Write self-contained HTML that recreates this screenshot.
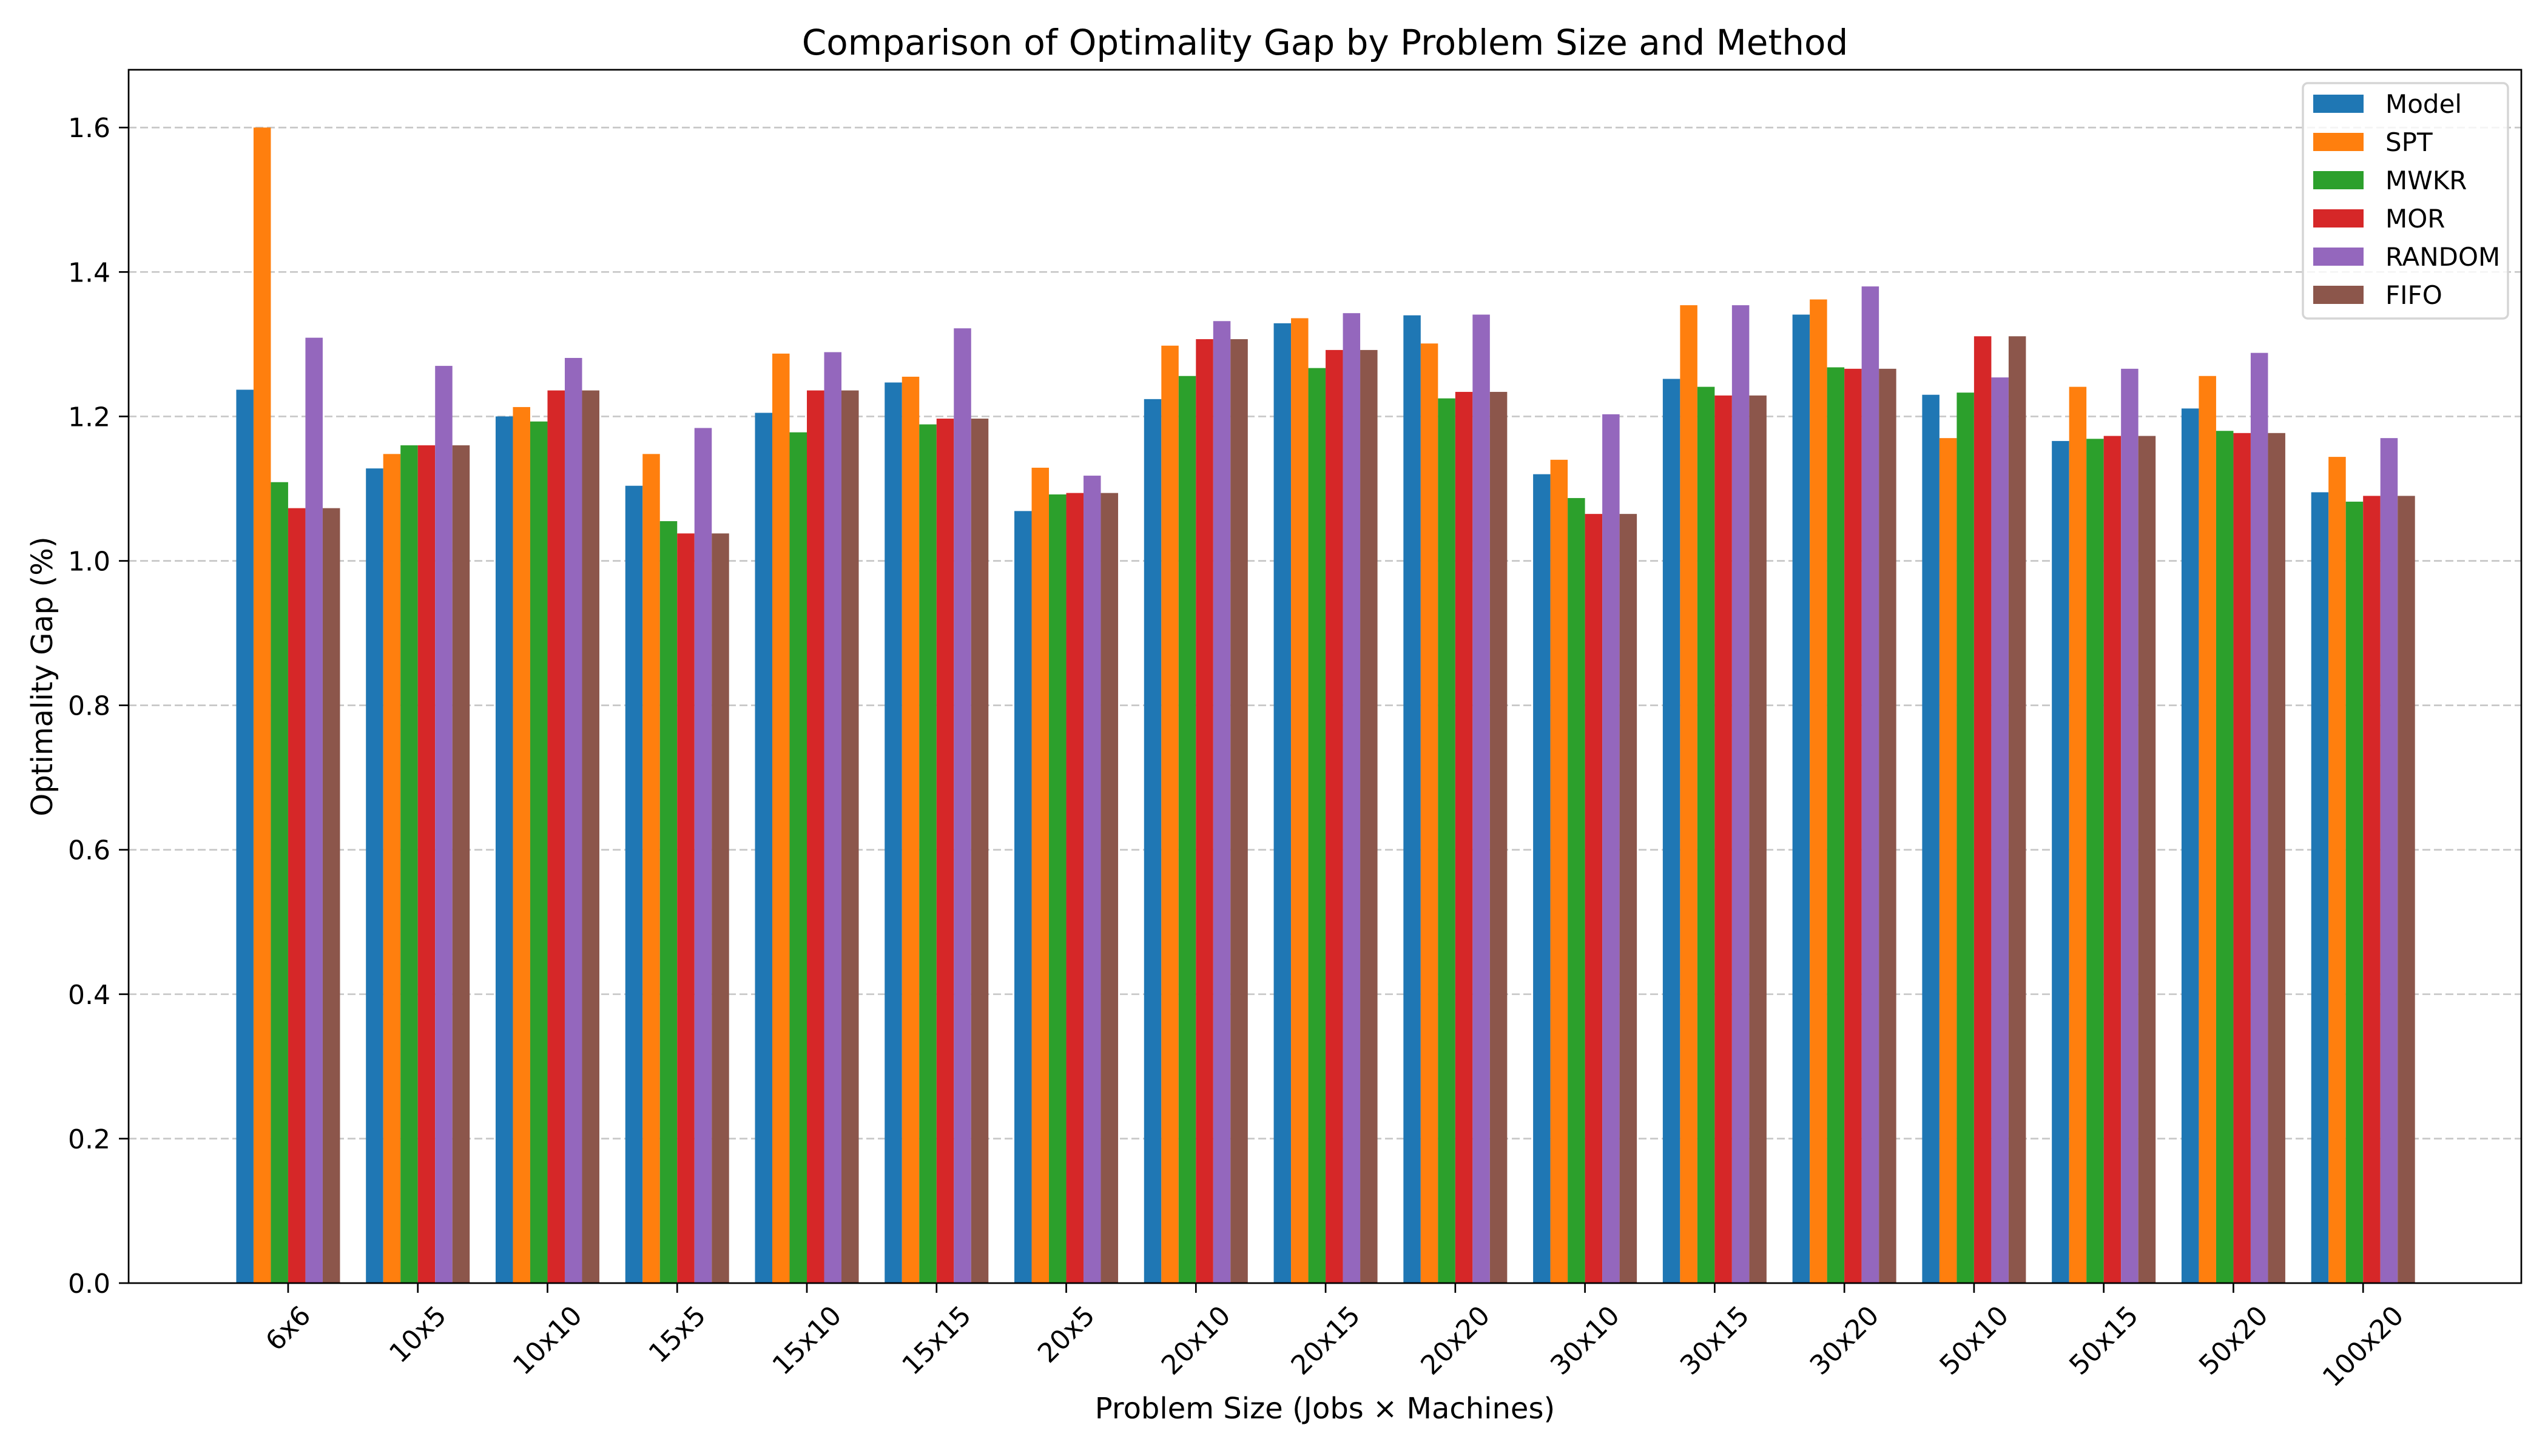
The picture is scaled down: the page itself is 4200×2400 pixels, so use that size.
<!DOCTYPE html>
<html><head><meta charset="utf-8"><style>
html,body{margin:0;padding:0;background:#fff;}
svg{display:block;font-family:"DejaVu Sans","Liberation Sans",sans-serif;}
</style></head><body>
<svg id="chart" width="4200" height="2400" viewBox="0 0 4200 2400">
<rect width="4200" height="2400" fill="#fff"/>
<g id="grid"></g><g id="bars"></g><g id="axes"></g><g id="legend"></g>
</svg>
<script>
const categories = ["6x6","10x5","10x10","15x5","15x10","15x15","20x5","20x10","20x15","20x20","30x10","30x15","30x20","50x10","50x15","50x20","100x20"];
const methods = ["Model","SPT","MWKR","MOR","RANDOM","FIFO"];
const colors = ["#1f77b4","#ff7f0e","#2ca02c","#d62728","#9467bd","#8c564b"];
const modelVals = [1.237,1.128,1.200,1.104,1.205,1.247,1.069,1.224,1.329,1.340,1.120,1.252,1.341,1.230,1.166,1.211,1.095];
const sptVals = [1.600,1.148,1.213,1.148,1.287,1.255,1.129,1.298,1.336,1.301,1.140,1.354,1.362,1.170,1.241,1.256,1.144];
const mwkrVals = [1.109,1.160,1.193,1.055,1.178,1.189,1.092,1.256,1.267,1.225,1.087,1.241,1.268,1.233,1.169,1.180,1.082];
const morVals = [1.073,1.160,1.236,1.038,1.236,1.197,1.094,1.307,1.292,1.234,1.065,1.229,1.266,1.311,1.173,1.177,1.090];
const randomVals = [1.309,1.270,1.281,1.184,1.289,1.322,1.118,1.332,1.343,1.341,1.203,1.354,1.380,1.254,1.266,1.288,1.170];
const fifoVals = [1.073,1.160,1.236,1.038,1.236,1.197,1.094,1.307,1.292,1.234,1.065,1.229,1.266,1.311,1.173,1.177,1.090];
const series = [modelVals,sptVals,mwkrVals,morVals,randomVals,fifoVals];
const yTicks = [0.0,0.2,0.4,0.6,0.8,1.0,1.2,1.4,1.6];

const NS="http://www.w3.org/2000/svg";
const L=212,R=4156,T=115,B=2115;
const yMax=1.68;
const xMin=-1.23,xMax=categories.length-1+1.22;
const sx=v=>L+(v-xMin)/(xMax-xMin)*(R-L);
const sy=v=>B-v/yMax*(B-T);
function mk(tag,attrs,parent,text){const e=document.createElementNS(NS,tag);for(const k in attrs)e.setAttribute(k,attrs[k]);if(text!==undefined)e.textContent=text;parent.appendChild(e);return e;}
const grid=document.getElementById('grid'),bars=document.getElementById('bars'),axes=document.getElementById('axes'),legend=document.getElementById('legend');

yTicks.forEach(t=>{
  if(t>0){const g=mk('line',{x1:L,x2:R,y1:sy(t),y2:sy(t),stroke:'#b0b0b0','stroke-width':2.7,'stroke-dasharray':'13,6',opacity:0.7},grid);
  
  }
  const tk=mk('line',{x1:L-16,x2:L,y1:sy(t),y2:sy(t),stroke:'#000','stroke-width':2.7},axes);
  
  
  const lb=mk('text',{x:L-30,y:sy(t)+16,'text-anchor':'end','font-size':44},axes,t.toFixed(1));
  
  
});

const w=0.8/6;
categories.forEach((c,ci)=>{
  series.forEach((s,si)=>{
    const x0=sx(ci+(si-3)*w), x1=sx(ci+(si-2)*w);
    const r=mk('rect',{x:x0,y:sy(s[ci]),width:x1-x0,height:sy(0)-sy(s[ci]),fill:colors[si]},bars);
    
    
  });
  const tx=sx(ci);
  const tk=mk('line',{x1:tx,x2:tx,y1:B,y2:B+16,stroke:'#000','stroke-width':2.7},axes);
  
  
  const lb=mk('text',{x:0,y:0,'text-anchor':'middle','font-size':44},axes,c);
  
  
  const tw=lb.getComputedTextLength()||c.length*27;
  const half=(tw*0.7071+44*0.7071)/2;
  const cy=B+30+half;
  lb.setAttribute('transform',`translate(${tx},${cy}) rotate(-45) translate(0,15)`);
});

const frame=mk('rect',{x:L,y:T,width:R-L,height:B-T,fill:'none',stroke:'#000','stroke-width':2.7},axes);


const title=mk('text',{x:(L+R)/2,y:90,'text-anchor':'middle','font-size':58},axes,'Comparison of Optimality Gap by Problem Size and Method');


const xt=mk('text',{x:(L+R)/2,y:2338,'text-anchor':'middle','font-size':48},axes,'Problem Size (Jobs × Machines)');


const yt=mk('text',{x:0,y:0,'text-anchor':'middle','font-size':48,transform:`translate(86,${(T+B)/2}) rotate(-90)`},axes,'Optimality Gap (%)');



const lbx=mk('rect',{x:3796,y:137,width:338,height:388,rx:8,fill:'#fff','fill-opacity':0.8,stroke:'#d5d5d5','stroke-width':3.5},legend);


methods.forEach((m,i)=>{
  const y=171+i*63;
  const p=mk('rect',{x:3813,y:y-15,width:83,height:30,fill:colors[i]},legend);
  
  
  const t=mk('text',{x:3932,y:y+15,'font-size':42},legend,m);
  
  
});
</script>
</body></html>
